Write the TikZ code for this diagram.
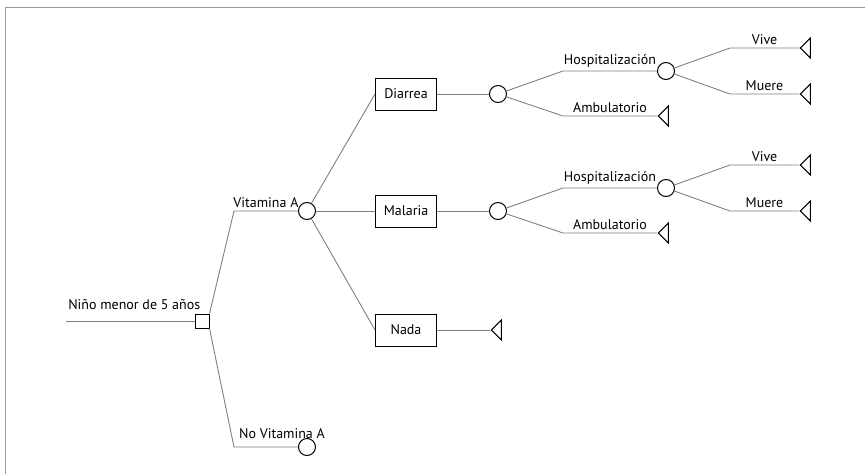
\documentclass[tikz,border=0pt]{standalone}
\usepackage{fontspec}
\setmainfont{PT Sans}
\usetikzlibrary{shapes.geometric}
\tikzset{
  rama/.style={draw=gray, line width=0.9pt},
  decision/.style={draw, rectangle, minimum size=14pt, inner sep=0pt, fill=white, line width=1pt},
  azar/.style={draw, circle, minimum size=17pt, inner sep=0pt, fill=white, line width=1pt},
  estado/.style={draw, rectangle, minimum width=61pt, minimum height=32pt, inner sep=0pt, fill=white, line width=1pt},
  final/.style={draw, isosceles triangle, shape border rotate=180, isosceles triangle stretches,
    minimum width=20pt, minimum height=10pt, inner sep=0pt, anchor=apex, line width=1pt},
  etiq/.style={above, inner sep=3pt}
}
\begin{document}
\begin{tikzpicture}[x=1pt,y=-1pt,font=\fontsize{14}{16}\selectfont]
  \useasboundingbox (0,0) rectangle (865,474);
  \draw[gray!80, line width=0.9pt] (5,474) -- (5,7) -- (865,7); %marco
  % nodo de decision
  \coordinate (ini) at (66,321);
  \node[decision] (dec) at (202,321) {};
  \draw[rama] (ini) -- node[etiq, xshift=4pt, yshift=8pt] {Niño menor de 5 años} (dec);
  \coordinate (va) at (234,211);
  \node[azar] (cva) at (307,211) {};
  \draw[rama] (dec.north east) -- (va) -- node[etiq] {Vitamina A} (cva);
  \coordinate (nva) at (234,447);
  \node[azar] (cnva) at (307,447) {};
  \draw[rama] (dec.south east) -- (nva) -- node[etiq, xshift=16pt, yshift=5pt] {No Vitamina A} (cnva);
  % estados
  \node[estado] (dia) at (406,94) {Diarrea};
  \node[estado] (mal) at (406,211) {Malaria};
  \node[estado] (nad) at (406,330) {Nada};
  \draw[rama] (cva) -- (dia.west);
  \draw[rama] (cva) -- (mal);
  \draw[rama] (cva) -- (nad.west);
  % rama diarrea
  \node[azar] (c1) at (498,94) {};
  \draw[rama] (dia) -- (c1);
  \coordinate (h1) at (563,71);
  \coordinate (a1) at (563,116);
  \node[azar] (ch1) at (666,71) {};
  \node[final] (ta1) at (657,116) {};
  \draw[rama] (c1) -- (h1) -- node[etiq] {Hospitalización} (ch1);
  \draw[rama] (c1) -- (a1) -- node[etiq] {Ambulatorio} (ta1.apex);
  \coordinate (v1) at (730,48);
  \coordinate (m1) at (730,94);
  \node[final] (tv1) at (799,48) {};
  \node[final] (tm1) at (799,94) {};
  \draw[rama] (ch1) -- (v1) -- node[etiq] {Vive} (tv1.apex);
  \draw[rama] (ch1) -- (m1) -- node[etiq] {Muere} (tm1.apex);
  % rama malaria
  \node[azar] (c2) at (498,211) {};
  \draw[rama] (mal) -- (c2);
  \coordinate (h2) at (563,188);
  \coordinate (a2) at (563,233);
  \node[azar] (ch2) at (666,188) {};
  \node[final] (ta2) at (657,233) {};
  \draw[rama] (c2) -- (h2) -- node[etiq] {Hospitalización} (ch2);
  \draw[rama] (c2) -- (a2) -- node[etiq] {Ambulatorio} (ta2.apex);
  \coordinate (v2) at (730,165);
  \coordinate (m2) at (730,211);
  \node[final] (tv2) at (799,165) {};
  \node[final] (tm2) at (799,211) {};
  \draw[rama] (ch2) -- (v2) -- node[etiq] {Vive} (tv2.apex);
  \draw[rama] (ch2) -- (m2) -- node[etiq] {Muere} (tm2.apex);
  % rama nada
  \node[final] (tn) at (490,330) {};
  \draw[rama] (nad) -- (tn.apex);
\end{tikzpicture}
\end{document}
